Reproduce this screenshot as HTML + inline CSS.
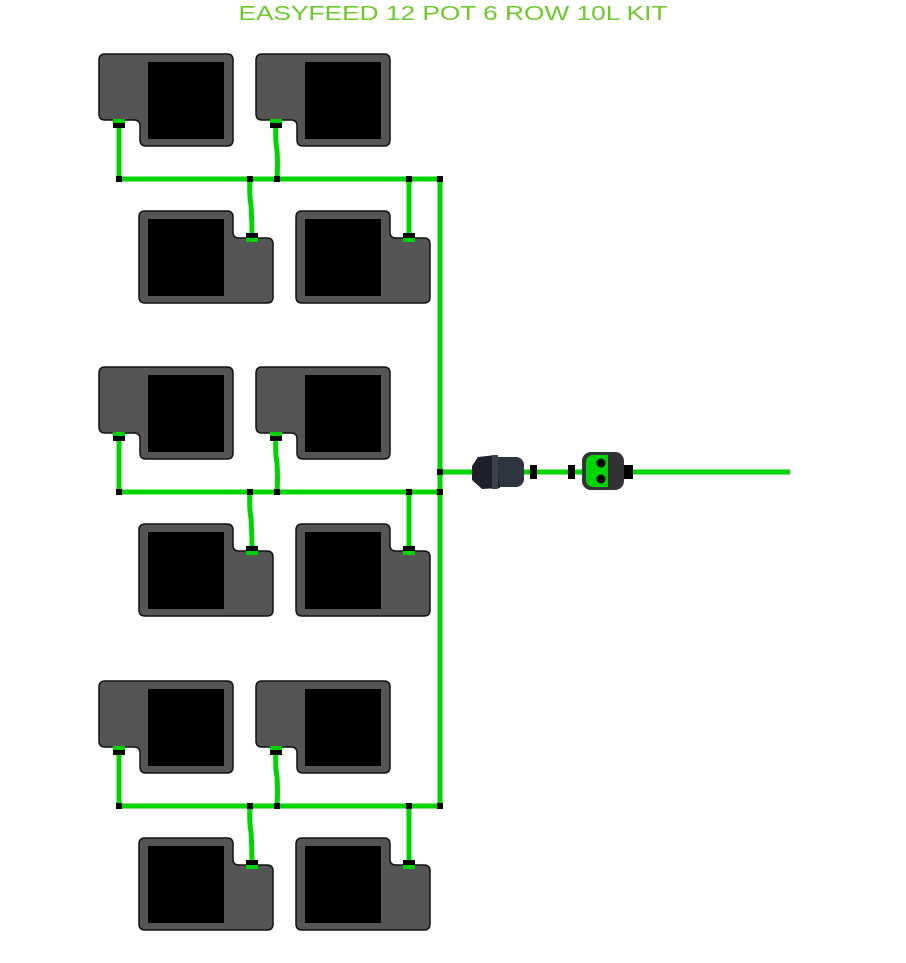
<!DOCTYPE html>
<html><head><meta charset="utf-8"><style>html,body{margin:0;padding:0;background:#fff}svg{display:block}</style></head>
<body>
<svg width="906" height="963" viewBox="0 0 906 963" xmlns="http://www.w3.org/2000/svg">
<defs>
<g id="potA">
<path d="M105,54 H227 Q233,54 233,60 V140 Q233,146 227,146 H146 Q140,146 140,140 V126 Q140,120 134,120 H105 Q99,120 99,114 V60 Q99,54 105,54 Z" fill="#555" stroke="#111" stroke-width="1.5"/>
<rect x="148" y="62" width="76" height="77" fill="#000"/>
</g>
<g id="potB">
<path d="M145,211 H227 Q233,211 233,217 V232 Q233,238 239,238 H267 Q273,238 273,244 V297 Q273,303 267,303 H145 Q139,303 139,297 V217 Q139,211 145,211 Z" fill="#555" stroke="#111" stroke-width="1.5"/>
<rect x="148" y="219" width="76" height="77" fill="#000"/>
</g>
<g id="grp">
<use href="#potA"/>
<use href="#potA" transform="translate(157,0)"/>
<use href="#potB"/>
<use href="#potB" transform="translate(157,0)"/>
<g stroke="#00d400" stroke-width="5" fill="none">
<line x1="119" y1="122" x2="119" y2="179"/>
<path d="M276,122 Q275,140 277,150 Q278,165 277,179"/>
<path d="M250,179 Q249,195 251,205 Q252,220 252,236"/>
<line x1="409" y1="179" x2="409" y2="236"/>
<line x1="117" y1="179" x2="442" y2="179"/>
</g>
<g fill="#00d400">
<rect x="113" y="119" width="12" height="4"/><rect x="270" y="119" width="12" height="4"/>
<rect x="246" y="238" width="12" height="4"/><rect x="403" y="238" width="12" height="4"/>
</g>
<g fill="#000">
<rect x="113" y="123" width="12" height="5"/><rect x="270" y="123" width="12" height="5"/>
<rect x="246" y="233" width="12" height="5"/><rect x="403" y="233" width="12" height="5"/>
<rect x="116" y="176" width="6" height="6"/><rect x="247" y="176" width="6" height="6"/>
<rect x="274" y="176" width="6" height="6"/><rect x="406" y="176" width="6" height="6"/>
<rect x="437" y="176" width="6" height="6"/>
</g>
</g>
</defs>
<text x="453" y="20" text-anchor="middle" font-family="Liberation Sans, sans-serif" font-size="20" fill="#6cc92a" textLength="429" lengthAdjust="spacingAndGlyphs">EASYFEED 12 POT 6 ROW 10L KIT</text>
<line x1="440" y1="179" x2="440" y2="806" stroke="#00d400" stroke-width="5"/>
<use href="#grp"/>
<use href="#grp" transform="translate(0,313)"/>
<use href="#grp" transform="translate(0,627)"/>
<line x1="440" y1="472" x2="790" y2="472" stroke="#00d400" stroke-width="5"/>
<rect x="437" y="469" width="6" height="6" fill="#000"/>
<!-- valve -->
<rect x="488" y="457" width="36" height="30" rx="8" fill="#2e3440"/>
<path d="M472,466 L478,457 L496,455 L500,488 L482,489 L472,480 Z" fill="#1e2129"/>
<rect x="492" y="455" width="6" height="34" fill="#3a404c"/>
<rect x="530" y="465" width="7" height="14" fill="#000"/>
<rect x="568" y="465" width="7" height="14" fill="#000"/>
<!-- timer -->
<rect x="582" y="452" width="42" height="38" rx="9" fill="#333"/>
<path d="M608,455 H594 Q586,455 586,463 V479 Q586,487 594,487 H608 Z" fill="#00d400"/>
<circle cx="601" cy="463" r="4.5" fill="#000"/>
<circle cx="601" cy="479" r="4.5" fill="#000"/>
<rect x="624" y="465" width="9" height="14" fill="#000"/>
</svg>
</body></html>
